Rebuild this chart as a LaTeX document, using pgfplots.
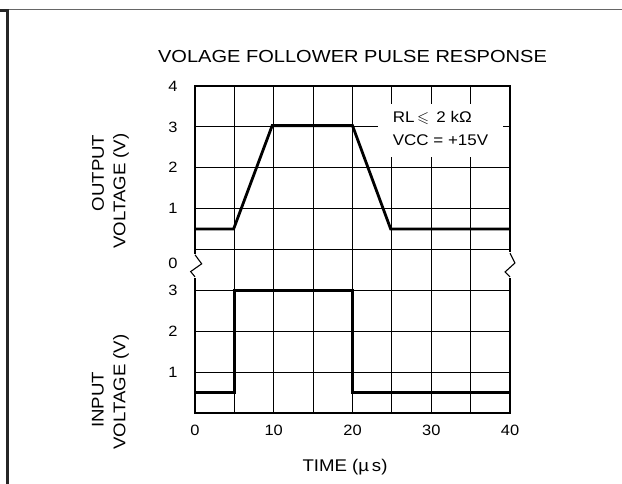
\documentclass[border=0pt]{standalone}
\usepackage{amssymb}
\usepackage{pgfplots}
\pgfplotsset{compat=1.18}
\usepackage{fontspec}
\setmainfont{Liberation Sans}[FakeStretch=1.1]
\newfontfamily\titlefont{Liberation Sans}[FakeStretch=1.15]
\begin{document}
\begin{tikzpicture}
\useasboundingbox (0bp,0bp) rectangle (622bp,484bp);
% page frame fragments
\draw[black!60, line width=1.5bp] (0bp,474.5bp) -- (622bp,474.5bp);
\draw[black!85, line width=2.2bp] (0bp,473.5bp) -- (7.5bp,473.5bp) -- (7.5bp,-2bp);
\begin{axis}[
  at={(195bp,71bp)}, anchor=south west,
  width=315bp, height=327bp, scale only axis,
  xmin=0, xmax=40, ymin=0, ymax=8,
  xtick={0,5,...,40}, xticklabels={0,,10,,20,,30,,40},
  ytick={1,2,3,4,5,6,7,8}, yticklabels={1,2,3,,1,2,3,4},
  extra y ticks={3.65}, extra y tick labels={0},
  extra y tick style={grid=none},
  grid=major, major grid style={black, line width=1.1bp},
  axis line style={black, line width=1.2bp},
  major tick length=0pt,
  /pgf/number format/assume math mode=true,
  tick label style={font=\fontsize{15}{17}\selectfont},
  xticklabel style={anchor=center, yshift=-17bp},
  yticklabel style={anchor=center, xshift=-22bp},
  clip=false,
]
\addplot[black, line width=2.8bp] coordinates {(0,0.5) (5,0.5) (5,3) (20,3) (20,0.5) (40,0.5)};
\addplot[black, line width=2.8bp] table[x=t, y expr=\thisrow{v}+4] {
t v
0 0.5
4.9 0.5
9.8 3.03
20 3.03
24.85 0.5
40 0.5
};
\fill[white] (axis cs:23.2,6.27) rectangle (axis cs:39.1,7.55);
\node[anchor=west, font=\fontsize{15.5}{17}\selectfont, inner sep=0pt] at (axis cs:25.1,7.22) {RL\,$\leqslant$\, 2 kΩ};
\node[anchor=west, font=\fontsize{15.5}{17}\selectfont, inner sep=0pt] at (axis cs:25.1,6.68) {VCC = +15V};
% axis breaks
\draw[white, line width=3.5bp] (axis cs:0,3.31) -- (axis cs:0,3.89);
\draw[black, line width=1.1bp] (axis cs:0,3.87) -- (axis cs:0.85,3.65) -- (axis cs:-0.55,3.46) -- (axis cs:0,3.33);
\draw[white, line width=3.5bp] (axis cs:40,3.31) -- (axis cs:40,3.93);
\draw[black, line width=1.1bp] (axis cs:40,3.91) -- (axis cs:40.63,3.67) -- (axis cs:39.37,3.45) -- (axis cs:40,3.33);
\end{axis}
\node[font=\titlefont\fontsize{17.5}{20}\selectfont] at (352.5bp,427bp) {VOLAGE FOLLOWER PULSE RESPONSE};
\node[font=\fontsize{17}{20}\selectfont] at (345bp,17bp) {TIME (µ\,s)};
\node[rotate=90, font=\fontsize{17}{20}\selectfont] at (98bp,311bp) {OUTPUT};
\node[rotate=90, font=\fontsize{17}{20}\selectfont] at (121bp,293bp) {VOLTAGE (V)};
\node[rotate=90, font=\fontsize{17}{20}\selectfont] at (98bp,84bp) {INPUT};
\node[rotate=90, font=\fontsize{17}{20}\selectfont] at (121bp,92bp) {VOLTAGE (V)};
\end{tikzpicture}
\end{document}
